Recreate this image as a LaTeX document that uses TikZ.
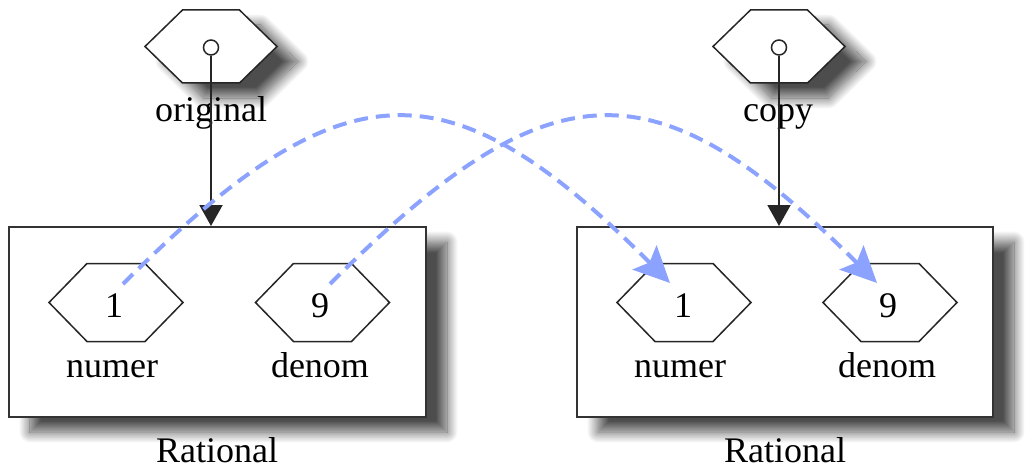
\documentclass[tikz,border=0pt]{standalone}
\usepackage{fontspec}
\setmainfont{Liberation Serif}
\usetikzlibrary{arrows.meta,calc,shadows.blur}
\definecolor{edgeblue}{RGB}{140,162,255}
\newcommand\hexshape[5]{% center, halfwidth, halfheight, halftop, extra style
  \path[hexline,#5,shift={(#1)}] (-#2,0) -- (-#4,-#3) -- (#4,-#3) -- (#2,0) -- (#4,#3) -- (-#4,#3) -- cycle;}
\begin{document}
\begin{tikzpicture}[x=1pt,y=-1pt,
  lbl/.style={font=\fontsize{36}{40}\selectfont, anchor=base, inner sep=0pt},
  boxline/.style={draw=black!80, line width=2pt, fill=white, inner sep=0pt},
  hexline/.style={draw=black!85, line width=1.5pt, fill=white},
  shad/.style={blur shadow={shadow xshift=21pt, shadow yshift=-15pt, shadow blur radius=11pt, shadow blur steps=20, shadow opacity=70}},
  noshad/.style={},
  port/.style={circle, draw=black!85, line width=1.5pt, fill=white, minimum size=15pt, inner sep=0pt},
  ptr/.style={draw=black!85, line width=2pt, -{Triangle[length=21pt,width=23pt]}},
  copyedge/.style={draw=edgeblue, line width=4pt, dash pattern=on 14pt off 8pt, -{Stealth[length=36pt,width=34pt,inset=7pt]}},
]
\useasboundingbox (0,0) rectangle (1026,468);

% boxes
\node[boxline, shad, minimum width=417pt, minimum height=190pt] (rat1) at (217.5,322) {};
\node[boxline, shad, minimum width=416pt, minimum height=190pt] (rat2) at (785,322) {};

% top hexagons
\coordinate (orig) at (211,46.5);
\coordinate (copy) at (779,46.5);
\hexshape{orig}{66}{36.5}{28.5}{shad}
\hexshape{copy}{66}{36.5}{28.5}{shad}
\node[port] (op) at (211,47.5) {};
\node[port] (cp) at (779,47.5) {};
\node[lbl] (origlbl) at (211,122) {original};
\node[lbl] (copylbl) at (778,122) {copy};

% inner hexagons
\coordinate (ln) at (116,302.5);
\coordinate (ld) at (322.5,302.5);
\coordinate (rn) at (684,302.5);
\coordinate (rd) at (890,302.5);
\hexshape{ln}{67}{39}{29}{noshad}
\hexshape{ld}{67}{39}{29}{noshad}
\hexshape{rn}{67}{39}{29}{noshad}
\hexshape{rd}{67}{39}{29}{noshad}
\node[lbl] (lnv) at (114,317) {1};
\node[lbl] (ldv) at (320,317) {9};
\node[lbl] (rnv) at (683,317) {1};
\node[lbl] (rdv) at (888,317) {9};
\node[lbl] (lnl) at (112,377) {numer};
\node[lbl] (ldl) at (320,377) {denom};
\node[lbl] (rnl) at (680,377) {numer};
\node[lbl] (rdl) at (887,377) {denom};
\node[lbl] (r1l) at (217,462) {Rational};
\node[lbl] (r2l) at (785,462) {Rational};

% pointer arrows
\draw[ptr] (op) -- (op |- rat1.north);
\draw[ptr] (cp) -- (cp |- rat2.north);

% copy edges
\coordinate (s1) at ($(ln)+(7,-18.5)$);
\coordinate (s2) at ($(ld)+(7.5,-18.5)$);
\coordinate (e1) at ($(rn)+(-14,-19.5)$);
\coordinate (e2) at ($(rd)+(-13,-19.5)$);
\draw[copyedge] (s1) .. controls +(221,-221) and +(-221,-221) .. (e1);
\draw[copyedge] (s2) .. controls +(221,-221) and +(-221,-221) .. (e2);
\end{tikzpicture}
\end{document}
